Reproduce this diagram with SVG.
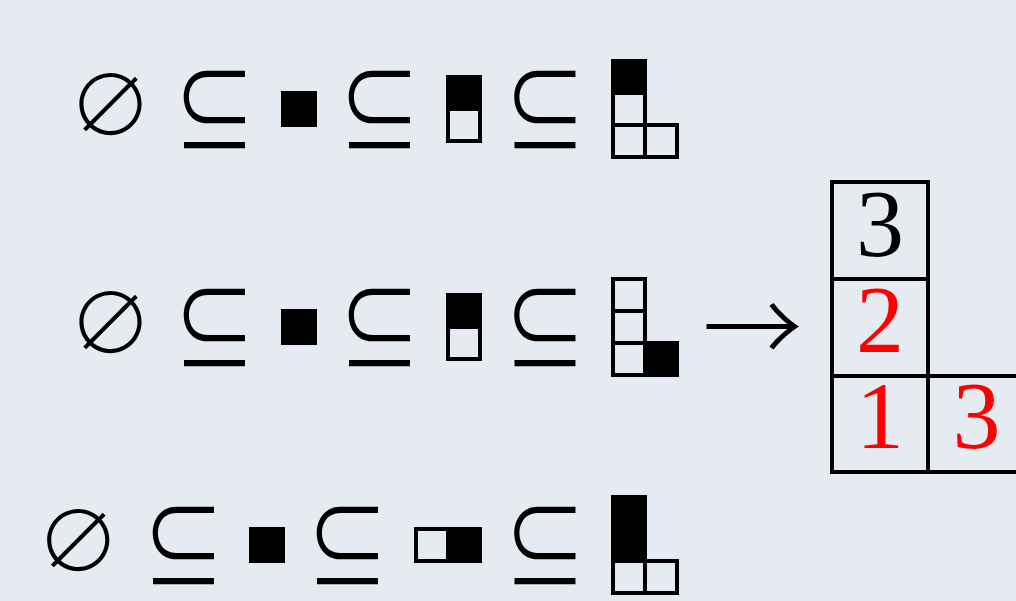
<svg xmlns="http://www.w3.org/2000/svg" width="1016" height="601" viewBox="0 0 1016 601">
<style>
.bg{fill:#e6ebf2}
.cell{fill:none;stroke:#000;stroke-width:4}
.blk{fill:#000;stroke:#000;stroke-width:4}
.sym{font-family:"Noto Sans CJK JP","DejaVu Sans",sans-serif;fill:#000;text-anchor:middle}
.sub{font-weight:350;font-size:100px}
.emp{font-weight:300;font-size:84px}
.arr{font-weight:300;font-size:100px}
.dig{font-family:"Liberation Serif",serif;font-size:96px;text-anchor:middle}
.red{fill:#ff0000}
</style>
<rect class="bg" x="0" y="0" width="1016" height="601"/>
<g id="row1">
  <g id="r1-empty"><text class="sym emp" x="110.5" y="136">∅</text></g>
  <g id="r1-sub1"><text class="sym sub" transform="translate(214.5,147) scale(0.82,1)">⊆</text></g>
  <g id="r1-box1"><rect class="blk" x="283" y="93" width="32" height="32"/></g>
  <g id="r1-sub2"><text class="sym sub" transform="translate(379.5,147) scale(0.82,1)">⊆</text></g>
  <g id="r1-box2"><rect class="blk" x="448" y="77" width="32" height="32"/><rect class="cell" x="448" y="109" width="32" height="32"/></g>
  <g id="r1-sub3"><text class="sym sub" transform="translate(545,147) scale(0.82,1)">⊆</text></g>
  <g id="r1-box3"><rect class="blk" x="613" y="61" width="32" height="32"/><rect class="cell" x="613" y="93" width="32" height="32"/><rect class="cell" x="613" y="125" width="32" height="32"/><rect class="cell" x="645" y="125" width="32" height="32"/></g>
</g>
<g id="row2">
  <g id="r2-empty"><text class="sym emp" x="110.5" y="354">∅</text></g>
  <g id="r2-sub1"><text class="sym sub" transform="translate(214.5,365) scale(0.82,1)">⊆</text></g>
  <g id="r2-box1"><rect class="blk" x="283" y="311" width="32" height="32"/></g>
  <g id="r2-sub2"><text class="sym sub" transform="translate(379.5,365) scale(0.82,1)">⊆</text></g>
  <g id="r2-box2"><rect class="blk" x="448" y="295" width="32" height="32"/><rect class="cell" x="448" y="327" width="32" height="32"/></g>
  <g id="r2-sub3"><text class="sym sub" transform="translate(545,365) scale(0.82,1)">⊆</text></g>
  <g id="r2-box3"><rect class="cell" x="613" y="279" width="32" height="32"/><rect class="cell" x="613" y="311" width="32" height="32"/><rect class="cell" x="613" y="343" width="32" height="32"/><rect class="blk" x="645" y="343" width="32" height="32"/></g>
</g>
<g id="row3">
  <g id="r3-empty"><text class="sym emp" x="78.3" y="572">∅</text></g>
  <g id="r3-sub1"><text class="sym sub" transform="translate(183.5,583) scale(0.82,1)">⊆</text></g>
  <g id="r3-box1"><rect class="blk" x="251" y="529" width="32" height="32"/></g>
  <g id="r3-sub2"><text class="sym sub" transform="translate(347.5,583) scale(0.82,1)">⊆</text></g>
  <g id="r3-box2"><rect class="cell" x="416" y="529" width="32" height="32"/><rect class="blk" x="448" y="529" width="32" height="32"/></g>
  <g id="r3-sub3"><text class="sym sub" transform="translate(545,583) scale(0.82,1)">⊆</text></g>
  <g id="r3-box3"><rect class="blk" x="613" y="497" width="32" height="32"/><rect class="blk" x="613" y="529" width="32" height="32"/><rect class="cell" x="613" y="561" width="32" height="32"/><rect class="cell" x="645" y="561" width="32" height="32"/></g>
</g>
<g id="connectors">
  <text class="sym arr" x="752.5" y="364">→</text>
</g>
<g id="tableau">
  <rect class="cell" x="832" y="182" width="96" height="97"/>
  <rect class="cell" x="832" y="279" width="96" height="97"/>
  <rect class="cell" x="832" y="376" width="96" height="96"/>
  <rect class="cell" x="928" y="376" width="97" height="96"/>
  <text class="dig" x="880" y="256">3</text>
  <text class="dig red" x="880" y="352">2</text>
  <text class="dig red" x="880" y="448">1</text>
  <text class="dig red" x="976.5" y="448">3</text>
</g>
</svg>
